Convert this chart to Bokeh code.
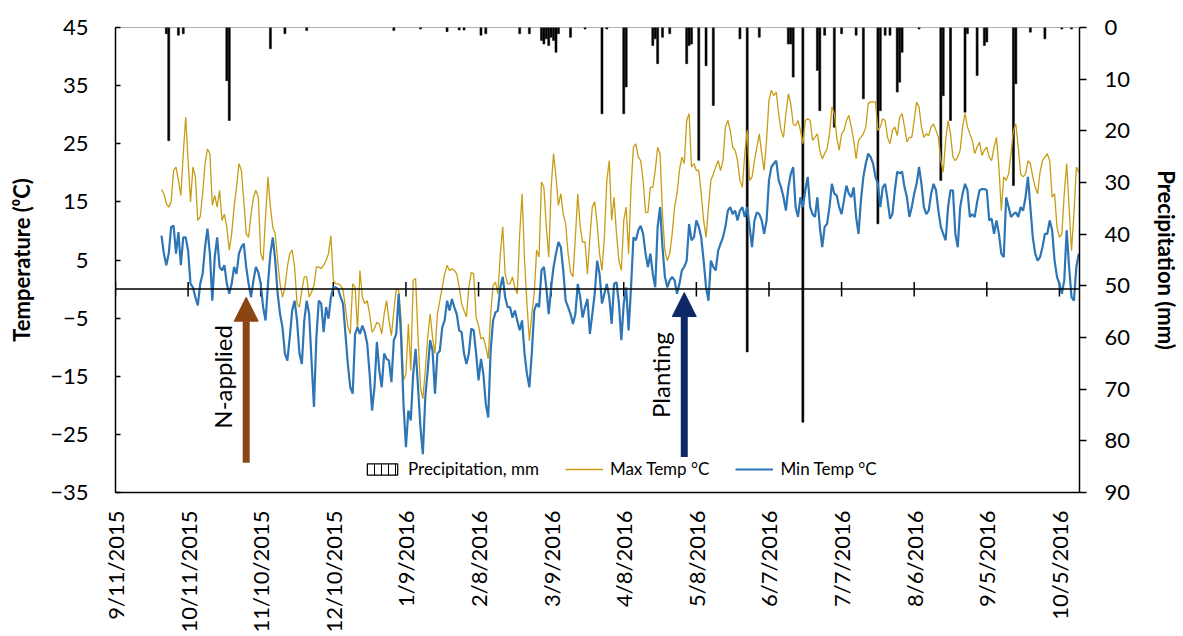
import math
import pandas as pd
from bokeh.plotting import figure
from bokeh.models import (Range1d, LinearAxis, FixedTicker, Span, Legend, LegendItem,
                          Arrow, NormalHead, ColumnDataSource)
from bokeh.embed import file_html
from bokeh.resources import INLINE
from bokeh.core.properties import value

# ---------------- data ----------------
axis_start = "2015-09-11"
axis_end = "2016-10-13"
first_day = "2015-09-30"

x_tick_labels = ["9/11/2015", "10/11/2015", "11/10/2015", "12/10/2015", "1/9/2016",
                 "2/8/2016", "3/9/2016", "4/8/2016", "5/8/2016", "6/7/2016",
                 "7/7/2016", "8/6/2016", "9/5/2016", "10/5/2016"]
temp_ticks = [-35, -25, -15, -5, 5, 15, 25, 35, 45]
precip_ticks = [0, 10, 20, 30, 40, 50, 60, 70, 80, 90]

tmax = [17.1, 16.4, 14.7, 14.1, 15.0, 20.4, 21.0, 18.7, 16.1, 23.3,
        29.6, 22.1, 15.0, 21.0, 19.3, 11.8, 12.4, 16.4, 21.6, 24.1,
        23.3, 14.4, 16.1, 14.1, 17.0, 11.8, 12.9, 10.6, 6.7, 9.5,
        14.1, 17.5, 21.6, 20.4, 15.3, 9.5, 8.9, 12.9, 15.8, 17.0,
        15.8, 6.1, 4.9, 12.4, 19.3, 14.1, 10.6, 9.5, 4.9, 0.9,
        -1.4, 0.3, 3.8, 6.1, 6.7, 3.8, -2.5, -3.1, -0.2, 2.1,
        2.1, -1.4, -0.5, 0.6,
        3.8, 3.8, 3.5, 4.1, 4.9, 6.1, 9.2, 1.5, 0.9, 0.9,
        0.6, -0.2, -3.1, -6.5, -7.7, 0.9, 0.3, -7.1, 3.2, -1.4,
        -2.5, -2.0, -4.3, -7.4, -6.8, -5.7, -6.0, -7.7, -4.3, -2.0,
        -5.4, -8.0, -3.7, 0.0, -0.2, -5.4, -15.7, -14.6, -6.0, -14.0,
        1.5, 1.8, -8.3, -16.9, -18.9, -14.0, -8.3, -4.3, -8.3, -11.1,
        -4.3, -2.0, 0.3, 2.6, 4.1, 3.2, 3.5, 3.2, 2.6, 0.3,
        -2.5, -3.7, -4.8, 0.3, 2.9,
        2.6, -4.9, -6.3, -8.6, -8.3, -10.0, -12.0, -4.3, 0.6, 1.2,
        -0.8, 6.1, 10.7, 2.6, 0.9, 0.9, 2.1, 0.3, -0.8, 9.5,
        16.4, 4.9, -2.5, -8.9, -4.3, -0.8, 6.7, 5.5, 18.4, 17.5,
        10.7, 5.5, 17.5, 23.3, 19.3, 14.4, 16.4, 12.9, 11.2, 6.1,
        2.9, 2.1, 8.9, 16.4, 10.7, 8.1, 8.1, 2.6, 8.9, 14.1,
        15.0, 11.2, 6.1, 3.2, 8.9, 18.7, 22.1, 11.8, 15.8, 9.5,
        4.9, 3.2, 11.8, 14.1, 6.1, 17.5, 24.4,
        25.0, 22.7, 22.1, 18.7, 13.2, 13.2, 17.5, 17.5, 20.4, 24.4,
        23.3, 12.9, 6.6, 4.9, 6.1, 9.5, 14.1, 16.4, 20.4, 22.7,
        21.6, 29.0, 30.2, 21.0, 21.6, 20.4, 20.4, 16.4, 11.8, 8.9,
        14.1, 18.7, 19.8, 21.0, 22.1, 20.4, 22.1, 27.9, 29.0, 27.3,
        24.4, 23.9, 22.1, 18.7, 17.5, 23.3, 27.3, 18.7, 19.3, 22.1,
        24.4, 26.7, 23.3, 20.4, 25.6, 32.5, 34.2, 33.3, 33.9, 30.2,
        27.3, 26.1, 30.2, 33.6, 31.9, 28.4,
        28.1, 29.0, 27.3, 25.0, 29.0, 29.3, 29.0, 25.6, 26.1, 26.7,
        23.9, 22.4, 23.3, 24.1, 26.7, 31.3, 30.2, 26.1, 23.9, 26.7,
        27.3, 29.0, 29.9, 27.9, 25.6, 22.4, 25.6, 26.1, 26.7, 27.9,
        31.9, 32.2, 32.2, 32.2, 27.3, 27.9, 29.3, 29.0, 26.1, 25.0,
        27.3, 27.9, 26.4, 29.6, 30.2, 27.9, 25.3, 26.1, 26.1, 29.0,
        32.2, 31.3, 27.9, 26.1, 26.7, 26.4, 27.9, 28.4, 27.3, 26.1,
        22.1, 20.1, 25.6, 29.0, 26.7, 22.7,
        22.1, 22.7, 23.9, 27.9, 30.2, 27.9, 26.7, 25.6, 23.3, 24.4,
        25.3, 23.0, 23.9, 24.4, 22.7, 22.1, 24.4, 26.1, 21.0, 13.5,
        19.3, 18.7, 19.8, 23.3, 27.3, 28.4, 24.4, 19.8, 19.3, 19.8,
        22.1, 21.6, 19.3, 17.5, 16.4, 20.1, 22.1, 22.7, 23.3, 22.1,
        15.8, 16.4, 10.7, 8.9, 9.5, 16.4, 21.6, 14.1, 6.6, 12.9,
        21.0, 20.1]

tmin = [9.2, 6.1, 4.1, 6.1, 10.7, 10.9, 6.1, 9.8, 4.1, 8.9,
        8.9, 6.6, 0.9, 0.3, -1.4, -2.8, 0.9, 2.6, 7.2, 10.4,
        6.1, -2.0, 5.5, 8.9, 3.8, 3.2, 4.1, 0.9, -0.8, 0.9,
        3.8, 2.6, 6.1, 7.2, 7.8, 3.8, 0.9, -1.4, 1.5, 3.8,
        2.9, 0.9, -3.1, -5.4, 0.9, 6.1, 8.9, 4.9, -0.8, -4.3,
        -6.6, -11.1, -12.3, -8.3, -3.7, -2.0, -5.4, -11.1, -12.9, -5.4,
        -2.0, -4.3, -12.3, -20.3,
        -8.3, -2.0, -2.5, -7.4, -3.1, -5.1, -1.4, 0.3, 0.3, 0.0,
        -1.4, -2.5, -7.7, -12.9, -16.9, -18.0, -7.7, -6.6, -7.7, -6.3,
        -7.4, -9.4, -14.6, -20.9, -16.9, -9.1, -14.0, -16.9, -11.1, -12.0,
        -12.3, -16.0, -8.8, -7.7, -0.8, -8.3, -19.8, -27.2, -20.9, -22.6,
        -14.6, -10.3, -16.9, -23.8, -28.4, -18.6, -14.0, -8.8, -10.6, -18.0,
        -11.1, -10.6, -6.6, -5.4, -2.0, -3.7, -1.7, -3.1, -4.3, -7.1,
        -7.4, -11.1, -12.9, -11.1, -6.8,
        -7.1, -11.1, -15.7, -12.0, -14.6, -19.8, -22.1, -10.6, -5.4, -4.0,
        -3.7, 0.3, 2.1, -1.4, -3.1, -3.1, -4.9, -3.7, -5.4, -7.1,
        -5.4, -11.1, -14.6, -16.9, -11.1, -3.7, -2.5, -3.1, 3.2, 3.8,
        0.3, -4.3, 0.3, 3.8, 6.1, 8.1, 7.2, 3.2, -2.0, -3.1,
        -4.3, -6.0, -4.3, 0.9, -1.4, -4.9, -3.1, -1.7, -7.7, -4.3,
        -0.8, 4.9, 2.6, -2.5, -0.8, 0.9, -1.4, -6.0, 0.9, 1.2,
        -2.5, -8.8, -2.5, 0.3, -7.1, 0.3, 8.9,
        8.4, 10.1, 10.9, 9.5, 6.1, 3.8, 6.1, 2.6, 0.3, 10.7,
        14.1, 7.2, 2.1, 0.3, 1.5, 2.1, 1.5, -0.8, 0.9, 3.2,
        3.8, 4.9, 11.2, 8.4, 8.9, 11.8, 10.7, 8.9, 4.9, 0.3,
        -2.0, 4.9, 3.8, 3.2, 6.6, 7.8, 8.9, 10.7, 13.5, 14.1,
        12.9, 13.5, 11.8, 13.5, 14.1, 12.4, 14.1, 10.7, 7.2, 11.8,
        13.2, 12.9, 11.8, 9.5, 11.8, 18.7, 21.0, 21.6, 22.1, 18.7,
        17.5, 15.8, 13.5, 17.5, 19.8, 21.0,
        14.1, 12.4, 15.8, 14.1, 17.0, 19.3, 14.1, 12.9, 12.4, 15.8,
        10.7, 7.2, 10.7, 11.2, 14.1, 18.1, 16.4, 16.1, 14.1, 12.9,
        15.3, 17.8, 16.4, 15.8, 17.5, 12.4, 9.5, 15.3, 19.3, 21.6,
        23.3, 22.7, 21.6, 19.3, 18.1, 14.1, 17.5, 18.1, 15.3, 12.1,
        12.9, 17.0, 20.2, 19.9, 20.2, 17.5, 15.8, 12.4, 14.1, 16.4,
        18.1, 21.0, 18.1, 14.1, 12.9, 13.5, 16.4, 18.1, 17.0, 13.5,
        10.7, 9.5, 8.4, 14.1, 17.0, 17.0,
        9.5, 7.2, 14.1, 16.4, 18.1, 17.0, 12.4, 12.9, 12.4, 15.0,
        17.0, 17.2, 17.2, 17.0, 11.8, 12.1, 9.5, 11.8, 9.5, 6.1,
        5.5, 15.8, 14.1, 12.4, 12.9, 13.2, 12.4, 14.1, 13.5, 15.8,
        19.3, 14.1, 8.9, 6.1, 4.9, 5.5, 7.2, 9.5, 9.5, 11.8,
        10.1, 4.9, 2.1, 0.9, -0.8, 1.5, 10.1, 3.8, -1.4, -2.0,
        3.8, 6.1]

precip_dates = ["2015-10-02", "2015-10-03", "2015-10-07", "2015-10-09", "2015-10-27",
                "2015-10-28", "2015-11-14", "2015-11-20", "2015-11-29", "2016-01-04",
                "2016-01-15", "2016-01-26", "2016-01-31", "2016-02-02", "2016-02-09",
                "2016-02-11", "2016-02-25", "2016-02-29", "2016-03-05", "2016-03-06",
                "2016-03-07", "2016-03-08", "2016-03-09", "2016-03-10", "2016-03-11",
                "2016-03-12", "2016-03-17", "2016-03-23", "2016-03-30", "2016-04-01",
                "2016-04-08", "2016-04-09", "2016-04-20", "2016-04-21", "2016-04-22",
                "2016-04-24", "2016-04-27", "2016-05-04", "2016-05-05", "2016-05-06",
                "2016-05-09", "2016-05-12", "2016-05-15", "2016-05-26", "2016-05-29",
                "2016-06-03", "2016-06-15", "2016-06-16", "2016-06-17", "2016-06-21",
                "2016-06-27", "2016-06-28", "2016-06-30", "2016-07-04", "2016-07-07",
                "2016-07-13", "2016-07-16", "2016-07-22", "2016-07-23", "2016-07-25",
                "2016-07-27", "2016-07-30", "2016-07-31", "2016-08-01", "2016-08-08",
                "2016-08-17", "2016-08-18", "2016-08-21", "2016-08-27", "2016-08-28",
                "2016-09-01", "2016-09-04", "2016-09-05", "2016-09-16", "2016-09-17",
                "2016-09-23", "2016-09-29", "2016-10-06", "2016-10-10"]
precip_mm = [1.2, 21.9, 1.5, 1.2, 10.3,
             18.0, 4.1, 1.2, 0.6, 0.6,
             0.3, 0.8, 0.5, 0.5, 1.5,
             1.2, 1.2, 1.2, 2.5, 3.2,
             2.2, 3.5, 1.9, 2.5, 4.8,
             1.2, 1.9, 0.3, 16.7, 0.3,
             16.7, 11.5, 3.5, 2.2, 7.0,
             1.9, 1.2, 7.0, 3.5, 3.2,
             25.7, 7.4, 15.1, 2.2, 62.8,
             1.9, 3.2, 3.2, 9.6, 76.4,
             8.3, 16.1, 1.5, 19.3, 1.2,
             1.5, 13.8, 38.0, 16.1, 1.5,
             1.5, 12.5, 10.6, 4.8, 0.3,
             29.6, 13.2, 18.0, 16.4, 1.2,
             9.3, 3.5, 2.8, 30.6, 10.9,
             0.9, 2.2, 0.3, 0.3]

n_applied_date = "2015-11-04"
planting_date = "2016-05-03"

# ---------------- helpers ----------------
t0 = pd.Timestamp(axis_start)


def day_of(s, fmt=None):
    return float((pd.to_datetime(s, format=fmt) - t0).days)


temp_days = [day_of(first_day) + i for i in range(len(tmax))]
precip_days = [day_of(s) for s in precip_dates]
tick_days = [day_of(s, "%m/%d/%Y") for s in x_tick_labels]

FONT = "Lato"
GOLD = "#C89D16"
BLUE = "#2E75B6"

p = figure(width=1183, height=636,
           x_range=Range1d(0, day_of(axis_end) + 0.3),
           y_range=Range1d(-35, 45),
           output_backend="svg", toolbar_location=None,
           min_border_left=115, min_border_right=103,
           min_border_top=27, min_border_bottom=144)
p.extra_y_ranges = {"precip": Range1d(90, 0)}
p.xgrid.visible = False
p.ygrid.visible = False
p.outline_line_color = "#B0B0B0"
p.outline_line_width = 1
p.background_fill_color = "white"
p.border_fill_color = "white"

# left axis (ticks point inward)
ya = p.yaxis[0]
ya.ticker = FixedTicker(ticks=temp_ticks)
ya.axis_label = "Temperature (\u2070C)"
ya.axis_label_text_font = FONT
ya.axis_label_text_font_style = "bold"
ya.axis_label_text_font_size = "22px"
ya.axis_label_text_color = "black"
ya.axis_label_standoff = 12
ya.major_label_text_font = FONT
ya.major_label_text_font_size = "22px"
ya.major_label_text_color = "black"
ya.major_label_standoff = 27
ya.major_tick_out = 0
ya.major_tick_in = 5
ya.minor_tick_out = 0
ya.minor_tick_in = 0
ya.axis_line_color = "black"
ya.axis_line_width = 1.5
ya.major_tick_line_width = 1.5

# right axis (reversed precipitation scale)
ra = LinearAxis(y_range_name="precip", ticker=FixedTicker(ticks=precip_ticks),
                axis_label="Precipitation (mm)")
ra.axis_label_text_font = FONT
ra.axis_label_text_font_style = "bold"
ra.axis_label_text_font_size = "22px"
ra.axis_label_text_color = "black"
ra.axis_label_standoff = 20
ra.major_label_text_font = FONT
ra.major_label_text_font_size = "22px"
ra.major_label_text_color = "black"
ra.major_label_standoff = 18
ra.major_tick_out = 7
ra.major_tick_in = 0
ra.minor_tick_out = 0
ra.minor_tick_in = 0
ra.axis_line_color = "black"
ra.axis_line_width = 1.5
ra.major_tick_line_width = 1.5
p.add_layout(ra, "right")

# bottom axis (labels only)
xa = p.xaxis[0]
xa.ticker = FixedTicker(ticks=tick_days)
xa.major_label_overrides = {d: lab for d, lab in zip(tick_days, x_tick_labels)}
xa.major_label_orientation = math.pi / 2
xa.major_label_text_font = FONT
xa.major_label_text_font_size = "22px"
xa.major_label_text_color = "black"
xa.major_label_standoff = 18
xa.major_tick_out = 0
xa.major_tick_in = 0
xa.minor_tick_out = 0
xa.minor_tick_in = 0
xa.axis_line_color = "black"
xa.axis_line_width = 1.5

# precipitation bars hanging from the top
p.vbar(x=precip_days, top=[0] * len(precip_mm), bottom=precip_mm, width=0.85,
       y_range_name="precip", fill_color="black", line_color="black", line_width=0.5)

# zero line with date tick marks
p.add_layout(Span(location=0, dimension="width", line_color="black", line_width=1.5))
p.segment(x0=tick_days, x1=tick_days, y0=[-1.3] * len(tick_days), y1=[1.2] * len(tick_days),
          line_color="black", line_width=1.5)

# temperature lines
src = ColumnDataSource(dict(x=temp_days, tmax=tmax, tmin=tmin))
lmax = p.line("x", "tmax", source=src, line_color=GOLD, line_width=1.3)
lmin = p.line("x", "tmin", source=src, line_color=BLUE, line_width=2.2)

# arrows + labels
BROWN = "#8B4513"
NAVY = "#0C2866"
xa_n = day_of(n_applied_date)
xa_p = day_of(planting_date)
p.add_layout(Arrow(end=NormalHead(size=24, fill_color=BROWN, line_color=BROWN),
                   x_start=xa_n, y_start=-29.9, x_end=xa_n, y_end=-1.4,
                   line_color=BROWN, line_width=7))
p.add_layout(Arrow(end=NormalHead(size=24, fill_color=NAVY, line_color=NAVY),
                   x_start=xa_p, y_start=-28.9, x_end=xa_p, y_end=-0.6,
                   line_color=NAVY, line_width=7))
p.text(x=[xa_n, xa_p], y=[-15.1, -14.8], text=["N-applied", "Planting"],
       angle=math.pi / 2, x_offset=-24, text_align="center", text_baseline="middle",
       text_font=value(FONT), text_font_size="24px", text_color="black")

# legend (proxy swatch for the patterned precipitation bars, placed off-range)
proxy = p.vbar(x=[-50], top=[0], bottom=[0], width=1, fill_color="white", line_color="black",
               line_width=1.2, hatch_pattern="|", hatch_color="black", hatch_scale=7,
               hatch_weight=1)
legend = Legend(items=[LegendItem(label="Precipitation, mm", renderers=[proxy]),
                       LegendItem(label="Max Temp \u00b0C", renderers=[lmax]),
                       LegendItem(label="Min Temp \u00b0C", renderers=[lmin])],
                orientation="horizontal", location=(248, 13),
                label_text_font=FONT, label_text_font_size="17px", label_text_color="black",
                glyph_width=38, glyph_height=14, spacing=26, label_standoff=7,
                padding=0, margin=0, background_fill_alpha=0, border_line_alpha=0)
p.add_layout(legend)

open("out.html", "w").write(file_html(p, INLINE))
